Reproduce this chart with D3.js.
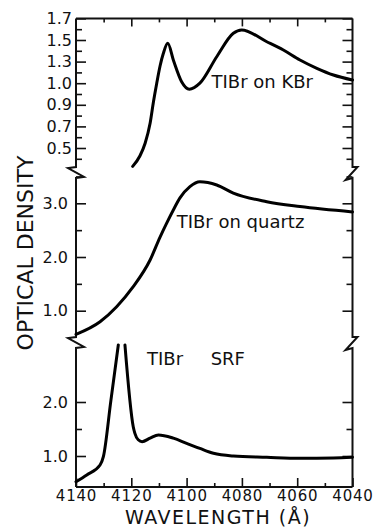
<!DOCTYPE html>
<html>
<head>
<meta charset="utf-8">
<script src="https://cdn.jsdelivr.net/npm/d3@7"></script>
<style>
  html, body { margin: 0; padding: 0; background: #fff; }
  svg { display: block; }
  text { font-family: "DejaVu Sans", sans-serif; fill: #111; }
</style>
</head>
<body>
<script>
// ---------------- data ----------------
const wlMajorTicks = [4140, 4120, 4100, 4080, 4060, 4040];
const wlMinorTicks = [4130, 4110, 4090, 4070, 4050];

const topTickLabels = [0.5, 0.7, 0.9, 1.0, 1.3, 1.5, 1.7];
const topMinorTicks = [0.4, 0.6, 0.8, 0.95, 1.15, 1.4, 1.6];
const midTickLabels = [1.0, 2.0, 3.0];
const midMinorTicks = [1.5, 2.5, 3.5];
const botTickLabels = [1.0, 2.0];
const botMinorTicks = [1.5];

// TlBr on KBr
const kbrWavelength = [4119.5, 4116.9, 4115.0, 4113.2, 4112.0, 4110.8, 4109.6, 4108.4, 4106.8, 4104.8, 4101.8, 4099.0, 4095.2, 4089.1, 4083.1, 4080.1, 4071.0, 4065.0, 4059.0, 4052.9, 4046.9, 4040];
const kbrOD         = [0.33,   0.426,  0.544,  0.729,  0.913,  1.0,    1.239,  1.377,  1.469,  1.315,  1.021,  0.972,  1.0,    1.345,  1.562,  1.593,  1.484,  1.407,  1.315,  1.207,  1.114,  1.044];

// TlBr on quartz
const quartzWavelength = [4140, 4131.3, 4125.3, 4119.3, 4113.2, 4109.6, 4107.2, 4104.8, 4102.4, 4098.8, 4095.2, 4089.1, 4083.1, 4071.0, 4059.0, 4040];
const quartzOD         = [0.56, 0.795,  1.075,  1.447,  1.944,  2.37,   2.63,   2.875,  3.10,   3.31,   3.40,   3.34,   3.19,   3.03,   2.94,   2.84];

// TlBr SRF (peak runs off scale: null marks the gap)
const srfWavelength = [4140, 4136.1, 4131.3, 4130.1, 4127.4, 4124.7, 4123.5, 4122.3, 4119.3, 4118.7, 4117.5, 4116.1, 4113.2, 4110.2, 4104.8, 4100.0, 4095.2, 4090.3, 4083.1, 4071.0, 4059.0, 4046.9, 4040];
const srfOD         = [0.524, 0.65,  0.833,  0.987,  2.02,   3.056,  null,   3.056,  1.543,  1.42,   1.30,   1.265,  1.33,   1.389,  1.33,   1.235,  1.14,   1.05,   1.00,   0.976,  0.957,  0.963,  0.976];

// ---------------- layout ----------------
const W = 375, H = 529;
const L = 76, R = 352.5, TOP = 18.4, BOTTOM = 487;
const BREAK1 = 167, BREAK2 = 337;
const topStep = 21.6;

const svg = d3.select("body").append("svg").attr("width", W).attr("height", H);

const x = d3.scaleLinear().domain([4140, 4040]).range([L, R]);
const yTop = d3.scaleLinear()
  .domain(topTickLabels)
  .range(topTickLabels.map((d, i) => TOP + (topTickLabels.length - 1 - i) * topStep));
const yMid = d3.scaleLinear().domain([1.0, 3.0]).range([310.7, 203.3]);
const yBot = d3.scaleLinear().domain([1.0, 2.0]).range([456, 402]);

const fmt = d3.format(".1f");

function styleAxis(g) {
  g.select(".domain").remove();
  g.selectAll("line").attr("stroke", "#111").attr("stroke-width", 1.6);
  g.selectAll("text").style("font-family", "'DejaVu Sans', sans-serif").attr("fill", "#111");
}

// ----- y axes (left labels + ticks, right ticks) -----
function yAxes(scale, labels, minors, labelPad) {
  svg.append("g").attr("transform", `translate(${L},0)`)
    .call(d3.axisLeft(scale).tickValues(labels).tickSize(-10).tickPadding(labelPad).tickFormat(fmt))
    .call(styleAxis)
    .call(g => g.selectAll("text").style("font-size", "16px"));
  svg.append("g").attr("transform", `translate(${L},0)`)
    .call(d3.axisLeft(scale).tickValues(minors).tickSize(-6).tickFormat(""))
    .call(styleAxis);
  svg.append("g").attr("transform", `translate(${R},0)`)
    .call(d3.axisRight(scale).tickValues(labels).tickSize(-10).tickFormat(""))
    .call(styleAxis);
  svg.append("g").attr("transform", `translate(${R},0)`)
    .call(d3.axisRight(scale).tickValues(minors).tickSize(-6).tickFormat(""))
    .call(styleAxis);
}
yAxes(yTop, topTickLabels, topMinorTicks, 4);
yAxes(yMid, midTickLabels, midMinorTicks, 8);
yAxes(yBot, botTickLabels, botMinorTicks, 8);

// ----- x axes -----
svg.append("g").attr("transform", `translate(0,${BOTTOM})`)
  .call(d3.axisBottom(x).tickValues(wlMajorTicks).tickSize(-9).tickPadding(3.5).tickFormat(d3.format("d")))
  .call(styleAxis)
  .call(g => g.selectAll("text").style("font-size", "15px").style("letter-spacing", "0.8px"));
svg.append("g").attr("transform", `translate(0,${BOTTOM})`)
  .call(d3.axisBottom(x).tickValues(wlMinorTicks).tickSize(-4).tickFormat(""))
  .call(styleAxis);
svg.append("g").attr("transform", `translate(0,${TOP})`)
  .call(d3.axisTop(x).tickValues(wlMajorTicks.slice(1, -1)).tickSize(-8).tickFormat(""))
  .call(styleAxis);
svg.append("g").attr("transform", `translate(0,${TOP})`)
  .call(d3.axisTop(x).tickValues(wlMinorTicks).tickSize(-4).tickFormat(""))
  .call(styleAxis);

// ----- frame with break marks -----
const leftBreak = b => [[L, b], [L - 8, b + 1], [L + 8, b + 10], [L, b + 11]];
const rightBreak = b => [[R, b], [R + 5, b], [R - 7, b + 13], [R, b + 11]];
const frameLine = d3.line();
const leftPts = [[L, TOP], ...leftBreak(BREAK1), ...leftBreak(BREAK2), [L, BOTTOM]];
const rightPts = [[R, TOP], ...rightBreak(BREAK1), ...rightBreak(BREAK2), [R, BOTTOM]];
const frame = svg.append("g").attr("fill", "none").attr("stroke", "#111").attr("stroke-width", 2)
  .attr("stroke-linejoin", "miter");
frame.append("path").attr("d", frameLine(leftPts));
frame.append("path").attr("d", frameLine(rightPts));
frame.append("path").attr("d", frameLine([[L, TOP], [R, TOP]]));
frame.append("path").attr("d", frameLine([[L, BOTTOM], [R, BOTTOM]]));

// ----- curves -----
function drawCurve(wls, ods, yScale) {
  const data = wls.map((w, i) => ({ w, v: ods[i] }));
  const line = d3.line()
    .defined(d => d.v != null)
    .x(d => x(d.w))
    .y(d => yScale(d.v))
    .curve(d3.curveMonotoneX);
  svg.append("path").datum(data)
    .attr("d", line)
    .attr("fill", "none")
    .attr("stroke", "#000")
    .attr("stroke-width", 3)
    .attr("stroke-linecap", "round")
    .attr("stroke-linejoin", "round");
}
drawCurve(kbrWavelength, kbrOD, yTop);
drawCurve(quartzWavelength, quartzOD, yMid);
drawCurve(srfWavelength, srfOD, yBot);

// ----- series labels -----
svg.append("text").attr("x", x(4091)).attr("y", yTop(0.98)).attr("font-size", 18).text("TIBr on KBr");
svg.append("text").attr("x", x(4103.6)).attr("y", yMid(2.535)).attr("font-size", 18).text("TIBr on quartz");
svg.append("text").attr("x", x(4114.3)).attr("y", yBot(2.685)).attr("font-size", 18).text("TIBr");
svg.append("text").attr("x", x(4091.3)).attr("y", yBot(2.685)).attr("font-size", 18).text("SRF");

// ----- axis titles -----
svg.append("text").attr("x", 218).attr("y", 524).attr("text-anchor", "middle")
  .attr("font-size", 19).style("letter-spacing", "1.5px").text("WAVELENGTH (Å)");
svg.append("text").attr("transform", "translate(33,253) rotate(-90)").attr("text-anchor", "middle")
  .attr("font-size", 22).text("OPTICAL DENSITY");
</script>
</body>
</html>
